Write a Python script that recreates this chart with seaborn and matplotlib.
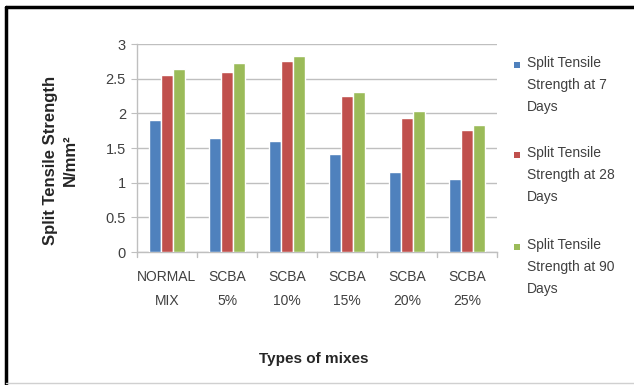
import matplotlib
matplotlib.use("Agg")
import matplotlib.pyplot as plt
import seaborn as sns
import pandas as pd
from matplotlib.patches import Rectangle
from matplotlib.lines import Line2D

mixes = ["NORMAL\nMIX", "SCBA\n5%", "SCBA\n10%", "SCBA\n15%", "SCBA\n20%", "SCBA\n25%"]
series_names = [
    "Split Tensile\nStrength at 7\nDays",
    "Split Tensile\nStrength at 28\nDays",
    "Split Tensile\nStrength at 90\nDays",
]
days_7 = [1.90, 1.64, 1.60, 1.41, 1.16, 1.05]
days_28 = [2.56, 2.60, 2.75, 2.25, 1.93, 1.76]
days_90 = [2.64, 2.72, 2.83, 2.31, 2.04, 1.83]
y_ticks = [0, 0.5, 1, 1.5, 2, 2.5, 3]
colors = ["#4F81BD", "#C0504D", "#9BBB59"]

rows = []
for name, vals in zip(series_names, [days_7, days_28, days_90]):
    for mix, v in zip(mixes, vals):
        rows.append({"mix": mix, "series": name, "value": v})
df = pd.DataFrame(rows)

sns.set_style("white")
plt.rcParams["font.family"] = ["Liberation Sans", "DejaVu Sans"]

W, H = 634, 385
fig = plt.figure(figsize=(W / 100, H / 100), dpi=100)
ax = fig.add_axes([137 / W, 1 - 252 / H, 360 / W, 208 / H])

sns.barplot(data=df, x="mix", y="value", hue="series", palette=colors,
            width=0.6, gap=0, saturation=1, ax=ax, legend=False, zorder=3)

ax.set_ylim(0, 3)
ax.set_xlim(-0.5, len(mixes) - 0.5)
ax.set_yticks(y_ticks)
ax.set_yticklabels([f"{t:g}" for t in y_ticks])
ax.yaxis.grid(True, color="#BFBFBF", linewidth=1, zorder=0)
ax.set_axisbelow(True)

for s in ["top", "right"]:
    ax.spines[s].set_visible(False)
for s in ["left", "bottom"]:
    ax.spines[s].set_color("#BFBFBF")
    ax.spines[s].set_linewidth(1)

# category labels with separator ticks between groups
ax.set_xticks(range(len(mixes)))
ax.set_xticklabels(mixes, fontsize=10, color="#404040", linespacing=1.9)
ax.tick_params(axis="x", length=0, pad=13)
for b in [i - 0.5 for i in range(len(mixes) + 1)]:
    ax.add_line(Line2D([b, b], [0, -0.025], color="#BFBFBF", lw=1,
                       transform=ax.get_xaxis_transform(), clip_on=False))
ax.tick_params(axis="y", length=4, color="#BFBFBF", labelsize=10.5,
               labelcolor="#404040", pad=4, left=True)

ax.set_xlabel("Types of mixes", fontsize=11, fontweight="bold", color="#262626", labelpad=0)
ax.xaxis.set_label_coords(0.49, -0.48)
ax.set_ylabel("Split Tensile Strength\nN/mm²", fontsize=12, fontweight="bold",
              color="#262626", linespacing=1.35)
ax.yaxis.set_label_coords(-0.165, 0.44)

# legend: square marker beside the first line of each wrapped label
entry_tops = [65, 155, 247]
for name, c, yc in zip(series_names, colors, entry_tops):
    fig.add_artist(Rectangle((514 / W, 1 - (yc + 3) / H), 6 / W, 6 / H,
                             facecolor=c, edgecolor="none", transform=fig.transFigure))
    fig.text(527 / W, 1 - (yc - 9) / H, name, fontsize=10, color="#404040",
             ha="left", va="top", linespacing=1.75)

# outer frame around the figure
fig.add_artist(Line2D([6 / W, 6 / W], [0, 1 - 7 / H], color="black", lw=2.5,
                      transform=fig.transFigure))
fig.add_artist(Line2D([6 / W, 1], [1 - 7 / H, 1 - 7 / H], color="black", lw=2.5,
                      transform=fig.transFigure))
fig.add_artist(Line2D([6 / W, 1], [2 / H, 2 / H], color="#D0D0D0", lw=1,
                      transform=fig.transFigure))

fig.savefig("out.png", dpi=100)
